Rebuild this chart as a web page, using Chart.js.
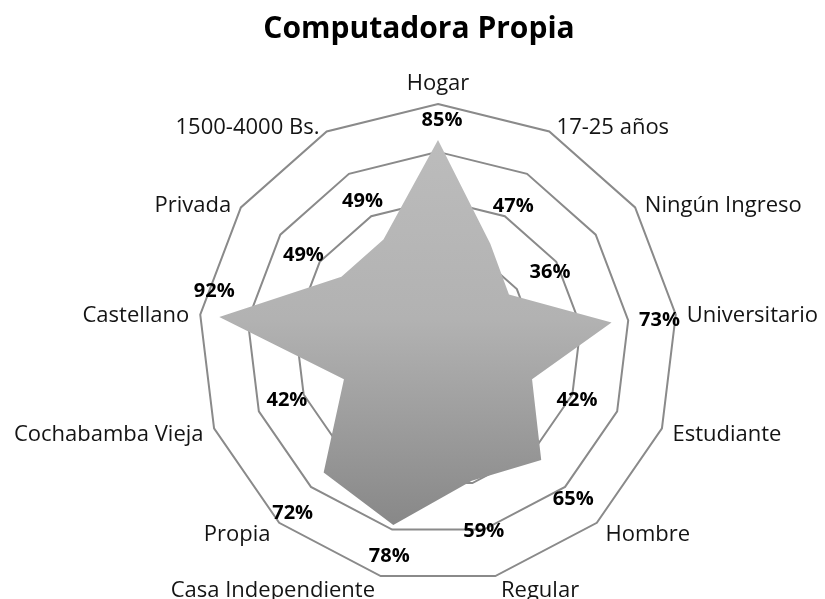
<!DOCTYPE html>
<html lang="es">
<head>
<meta charset="utf-8">
<title>Computadora Propia</title>
<script src="https://cdn.jsdelivr.net/npm/chart.js@4.4.1/dist/chart.umd.min.js"></script>
<style>
  html, body { margin: 0; padding: 0; background: #ffffff; }
  #wrap { width: 825px; height: 599px; position: relative; }
  canvas { display: block; }
</style>
</head>
<body>
<div id="wrap"><canvas id="radar" width="825" height="599"></canvas></div>
<script>
// Chart content
const chartTitle = 'Computadora Propia';
const categories = [
  'Hogar', '17-25 años', 'Ningún Ingreso', 'Universitario', 'Estudiante',
  'Hombre', 'Regular', 'Casa Independiente', 'Propia', 'Cochabamba Vieja',
  'Castellano', 'Privada', '1500-4000 Bs.'
];
const values = [85, 47, 36, 73, 42, 65, 59, 78, 72, 42, 92, 49, 49];
const gridTicks = [0, 20, 40, 60, 80, 100];

// Nudges (px) for each percentage label, relative to its point
const valueLabelOffsets = [
  [4, -21], [23, -39], [41, -24], [48, -4], [45, 20], [32, 38], [12, 49],
  [-4, 30], [-31, 39], [-57, 20], [-5, -27], [-38, -23], [-21, -40]
];

const FONT = '"Open Sans", "Liberation Sans", sans-serif';

// Soft drop shadow under the filled area
const shadowPlugin = {
  id: 'areaShadow',
  beforeDatasetDraw(chart) {
    const ctx = chart.ctx;
    ctx.save();
    ctx.shadowColor = 'rgba(0,0,0,0.45)';
    ctx.shadowBlur = 9;
    ctx.shadowOffsetX = 3;
    ctx.shadowOffsetY = 4;
  },
  afterDatasetDraw(chart) {
    chart.ctx.restore();
  }
};

// Title, category names and percentage labels
const textPlugin = {
  id: 'radarText',
  afterDatasetsDraw(chart) {
    const ctx = chart.ctx;
    const r = chart.scales.r;
    ctx.save();

    // category names around the outer ring
    const catSize = 22;
    const catCap = catSize * 0.714;
    ctx.font = catSize + 'px ' + FONT;
    ctx.fillStyle = '#141414';
    ctx.textBaseline = 'alphabetic';
    categories.forEach((txt, i) => {
      const a = r.getIndexAngle(i);
      const s = Math.sin(a), c = Math.cos(a);
      const p = r.getPointPosition(i, r.drawingArea);
      if (Math.abs(s) < 0.05) {
        ctx.textAlign = 'center';
        ctx.fillText(txt, p.x, p.y - 14);
        return;
      }
      ctx.textAlign = s > 0 ? 'left' : 'right';
      const x = p.x + Math.sign(s) * (4 + 7 * Math.abs(s));
      const capMid = p.y - 6 * c + (c < 0 ? -8 * c : 0);
      ctx.fillText(txt, x, capMid + catCap / 2);
    });

    // percentage labels
    const valSize = 20;
    ctx.font = 'bold ' + valSize + 'px ' + FONT;
    ctx.fillStyle = '#000000';
    ctx.textAlign = 'center';
    const meta = chart.getDatasetMeta(0);
    meta.data.forEach((pt, i) => {
      const [dx, dy] = valueLabelOffsets[i];
      ctx.fillText(values[i] + '%', pt.x + dx, pt.y + dy + valSize * 0.714 / 2);
    });

    // title
    ctx.font = 'bold 30px ' + FONT;
    ctx.textAlign = 'center';
    ctx.fillText(chartTitle, 419, 38);

    ctx.restore();
  }
};

function areaGradient(context) {
  const chart = context.chart;
  const area = chart.chartArea;
  if (!area) return '#aaaaaa';
  const g = chart.ctx.createLinearGradient(0, area.top, 0, area.bottom);
  g.addColorStop(0, '#bebebe');
  g.addColorStop(0.45, '#b2b2b2');
  g.addColorStop(1, '#7c7c7c');
  return g;
}

function build() {
  new Chart(document.getElementById('radar'), {
    type: 'radar',
    data: {
      labels: categories,
      datasets: [{
        data: values,
        fill: true,
        backgroundColor: areaGradient,
        borderWidth: 0,
        borderColor: 'rgba(0,0,0,0)',
        pointRadius: 0,
        pointHoverRadius: 0,
        tension: 0
      }]
    },
    options: {
      responsive: false,
      devicePixelRatio: 1,
      animation: false,
      events: [],
      layout: {
        padding: { left: 198.5, right: 147.5, top: 104, bottom: 16 }
      },
      plugins: {
        legend: { display: false },
        title: { display: false },
        tooltip: { enabled: false }
      },
      scales: {
        r: {
          min: 0,
          max: 100,
          afterBuildTicks(scale) {
            scale.ticks = gridTicks.map(v => ({ value: v }));
          },
          afterFit(scale) {
            scale.xCenter = (scale.left + scale.right) / 2;
            scale.yCenter = (scale.top + scale.bottom) / 2;
            scale.drawingArea = Math.min(scale.width, scale.height) / 2;
          },
          ticks: { display: false },
          pointLabels: { display: false },
          angleLines: { display: false },
          grid: {
            circular: false,
            color: '#8a8a8a',
            lineWidth: 2
          }
        }
      }
    },
    plugins: [shadowPlugin, textPlugin]
  });
}

if (document.fonts && document.fonts.load) {
  Promise.all([
    document.fonts.load('22px "Open Sans"'),
    document.fonts.load('bold 22px "Open Sans"')
  ]).then(build, build);
} else {
  build();
}
</script>
</body>
</html>
